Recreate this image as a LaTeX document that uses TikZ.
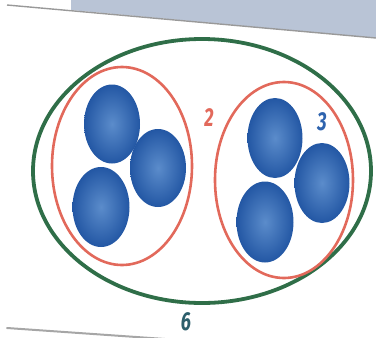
\documentclass[tikz,border=0pt]{standalone}
\usepackage{fontspec}
\usepackage{graphicx}
\usepackage{tikz}
\usetikzlibrary{positioning}
\newfontfamily\labfont{Fira Sans}
\definecolor{setGreen}{HTML}{2F6E48}
\definecolor{setRed}{HTML}{E2695B}
\definecolor{ballBlue}{HTML}{2357A4}
\definecolor{ballLight}{HTML}{5B8CCB}
\definecolor{numBlue}{HTML}{2E63AE}
\definecolor{numTeal}{HTML}{2C5E6B}
\definecolor{pageGray}{HTML}{B9C4D6}

\begin{document}
\begin{tikzpicture}[
  x=1pt,y=-1pt,
  ball/.style={inner color=ballLight,outer color=ballBlue,draw=none},
  ring/.style={draw=setRed,line width=2.6pt},
  num/.style={font=\labfont\bfseries\itshape\fontsize{26}{26}\selectfont,inner sep=0pt}
]
  \useasboundingbox (0,0) rectangle (376,338);
  \fill[pageGray] (71,0) -- (376,0) -- (376,38) -- (71,10) -- cycle;
  \draw[gray!80,line width=1.4pt] (7,5) -- (376,38);
  \draw[gray!70,line width=2pt,line cap=round] (7,328) -- (165,339);
  \draw[draw=setGreen,line width=3.8pt] (202,171) ellipse [x radius=169,y radius=132];
  \draw[ring] (122,166) ellipse [x radius=70,y radius=99];
  \draw[ring] (284,180) ellipse [x radius=69,y radius=98];
  \shade[ball] (112,124) ellipse [x radius=28,y radius=39.5];
  \shade[ball] (158,168) ellipse [x radius=28,y radius=39];
  \shade[ball] (101,207) ellipse [x radius=28.5,y radius=40];
  \shade[ball] (275,138) ellipse [x radius=27.5,y radius=40];
  \shade[ball] (322,183) ellipse [x radius=27.5,y radius=40];
  \shade[ball] (265,222) ellipse [x radius=28.5,y radius=40.5];
  \node[num,text=setRed] (two) at (209,118) {\scalebox{.7}[1]{2}};
  \node[num,text=numBlue] (three) at (322,122) {\scalebox{.7}[1]{3}};
  \node[num,text=numTeal] (six) at (186,322) {\scalebox{.7}[1]{6}};
\end{tikzpicture}
\end{document}
